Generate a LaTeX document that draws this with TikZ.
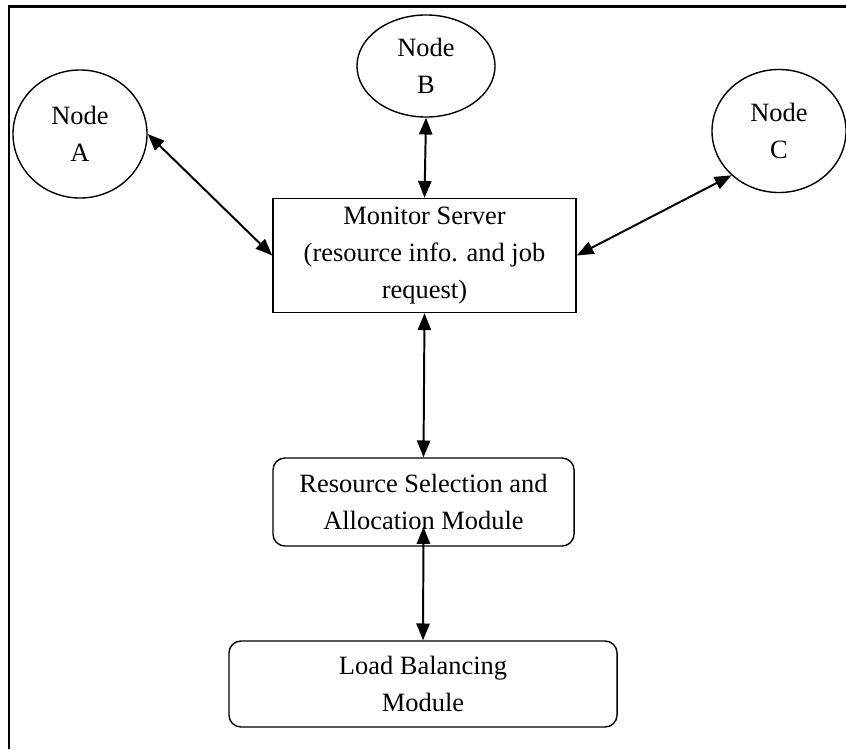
\documentclass[tikz,border=0pt]{standalone}
\usepackage{fontspec}
\setmainfont{Liberation Serif}
\usepackage{tikz}
\usetikzlibrary{shapes.geometric,arrows.meta,positioning,calc}
\tikzset{
    % Ellipses for the cluster nodes
    hostnode/.style={
        ellipse,
        draw=black,
        fill=white,
        line width=1pt,
        inner sep=0pt,
        align=center,
        font=\fontsize{18.8pt}{26pt}\selectfont
    },
    serverbox/.style={
        rectangle,
        draw=black,
        fill=white,
        line width=1pt,
        align=center,
        font=\fontsize{18.8pt}{26pt}\selectfont
    },
    modulebox/.style={
        rectangle,
        rounded corners=0.3cm,
        draw=black,
        fill=white,
        line width=1pt,
        align=center,
        font=\fontsize{18.8pt}{26pt}\selectfont
    },
    arrow/.style={
        {Triangle[length=0.42cm,width=0.33cm]}-{Triangle[length=0.42cm,width=0.33cm]},
        line width=1.4pt,
        color=black
    }
}
\begin{document}
\begin{tikzpicture}[x=0.025cm, y=-0.025cm]
            \useasboundingbox (0,0) rectangle (846,749);

            % Frame (top and left edges)
            \draw[line width=2.1pt] (9,749) -- (9,6.5) -- (846,6.5);

            % Cluster nodes
            \node[hostnode, minimum width=3.35cm, minimum height=3.2cm] (nodeA) at (80,134) {Node\\A};
            \node[hostnode, minimum width=3.45cm, minimum height=2.55cm] (nodeB) at (426,66) {Node\\B};
            \node[hostnode, minimum width=3.35cm, minimum height=3.075cm] (nodeC) at (779,131) {Node\\C};

            % Monitor Server
            \node[serverbox, minimum width=7.575cm, minimum height=2.85cm] (server) at (424.5,255.5) {
                Monitor Server\\
                (resource info. and job\\
                request)
            };

            % Resource Selection
            \node[modulebox, minimum width=7.525cm, minimum height=2.2cm] (select) at (423.5,502) {
                Resource Selection and\\
                Allocation Module
            };

            % Load Balancing
            \node[modulebox, minimum width=9.7cm, minimum height=2.15cm] (balance) at (423,684) {
                Load Balancing\\
                Module
            };

            \coordinate (selecttip) at ([yshift=-0.625cm]select.center);

            % Arrows (both ends)
            \draw[arrow] (nodeA.east) -- (server.west);
            \draw[arrow] (nodeB.south) -- (server.north);
            \draw[arrow] (nodeC.223) -- (server.east);
            \draw[arrow] (server.south) -- (select.north);
            \draw[arrow] (selecttip) -- (balance.north);
        \end{tikzpicture}
\end{document}
